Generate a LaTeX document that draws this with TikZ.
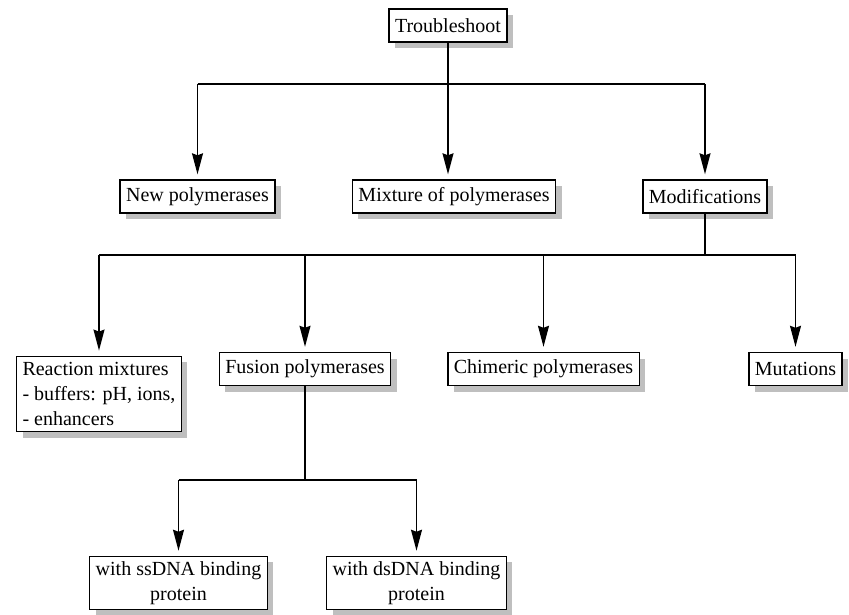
\documentclass[tikz,border=0pt]{standalone}
\usepackage{fontspec}
\setmainfont{Liberation Serif}
\usetikzlibrary{arrows.meta, shadows}

\begin{document}
\begin{tikzpicture}[x = 1pt, y = -1pt, line width = 1.4pt,
  box/.style = {draw, fill = white, inner xsep = 6pt, minimum height = 33pt,
    font = \fontsize{20}{25}\selectfont,
    drop shadow = {shadow xshift = 6pt, shadow yshift = -6pt, fill = gray!50, opacity = 1}},
  arr/.style = {-{Stealth[length = 21pt, width = 11pt, inset = 2pt]}, shorten > = 5pt}]
\useasboundingbox (0,0) rectangle (849,615);
\node[box] (top) at (448,25.5) {Troubleshoot};
\node[box] (new) at (197.5,196.5) {New polymerases};
\node[box] (mix) at (454,196.5) {Mixture of polymerases};
\node[box] (mod) at (705,196.5) {Modifications};
\node[box, align = left, inner ysep = 6pt] (react) at (99,394) {Reaction mixtures\\- buffers: pH, ions,\\- enhancers};
\node[box] (fus) at (305,369) {Fusion polymerases};
\node[box] (chim) at (543.5,369) {Chimeric polymerases};
\node[box] (mut) at (795.5,369) {Mutations};
\node[box, align = center, inner ysep = 5pt] (ss) at (178.5,583) {with ssDNA binding\\protein};
\node[box, align = center, inner ysep = 5pt] (ds) at (416.5,583) {with dsDNA binding\\protein};
\coordinate (j1) at (448,84);
\coordinate (j2) at (705,255);
\coordinate (j3) at (305,480);
\draw (top.south) -- (j1);
\draw (new |- j1) -- (mod |- j1);
\draw[arr] (new |- j1) -- (new.north);
\draw[arr] (j1) -- (j1 |- mix.north);
\draw[arr] (mod |- j1) -- (mod.north);
\draw (mod.south) -- (j2);
\draw (react |- j2) -- (mut |- j2);
\draw[arr] (react |- j2) -- (react.north);
\draw[arr] (fus |- j2) -- (fus.north);
\draw[arr] (chim |- j2) -- (chim.north);
\draw[arr] (mut |- j2) -- (mut.north);
\draw (fus.south) -- (j3);
\draw (ss |- j3) -- (ds |- j3);
\draw[arr] (ss |- j3) -- (ss.north);
\draw[arr] (ds |- j3) -- (ds.north);
\end{tikzpicture}
\end{document}
